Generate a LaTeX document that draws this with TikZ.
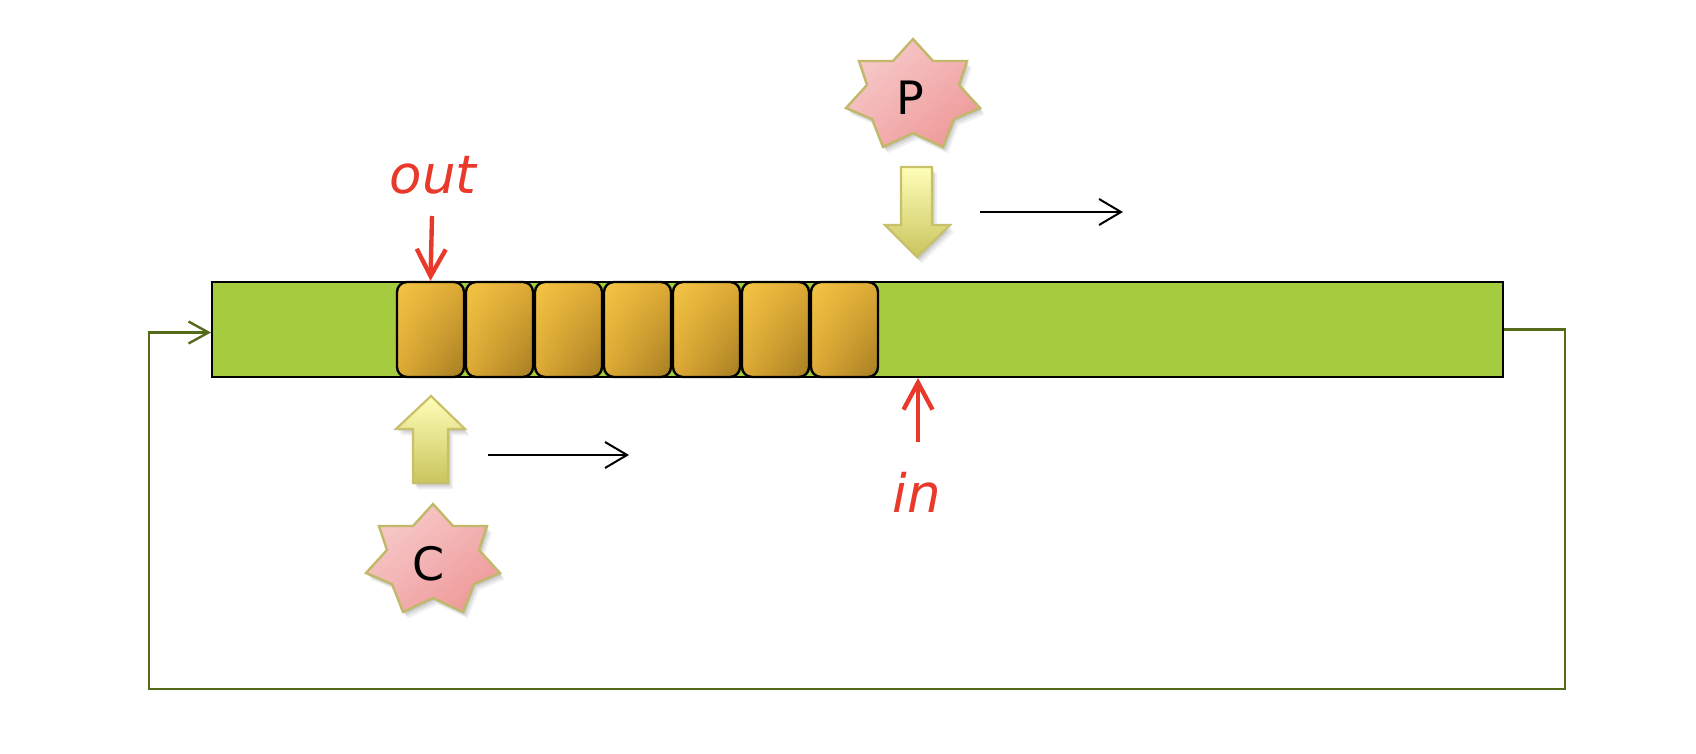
\documentclass[tikz,border=0pt]{standalone}
\usepackage{fontspec}
\setmainfont{DejaVu Sans}
\usetikzlibrary{arrows.meta,shadows,shadings}
\definecolor{bargreen}{HTML}{A5CB3F}
\definecolor{loopgreen}{HTML}{566B1A}
\definecolor{cellA}{HTML}{F3C544}
\definecolor{cellB}{HTML}{DDA935}
\definecolor{cellC}{HTML}{A67D22}
\definecolor{starA}{HTML}{F8D2D2}
\definecolor{starB}{HTML}{F3B3B3}
\definecolor{starC}{HTML}{EE9090}
\definecolor{starEdge}{HTML}{C2B86A}
\definecolor{arrA}{HTML}{FFFEB8}
\definecolor{arrB}{HTML}{C9C55E}
\definecolor{arrEdge}{HTML}{C8C06A}
\definecolor{redc}{HTML}{E8392A}
\begin{document}
\begin{tikzpicture}[x=0.5pt,y=-0.5pt,
  softshadow/.style={
    drop shadow={shadow xshift=0.8pt, shadow yshift=-1.2pt, opacity=0.10, fill=black},
    drop shadow={shadow xshift=1.6pt, shadow yshift=-2.2pt, opacity=0.08, fill=black},
    drop shadow={shadow xshift=2.4pt, shadow yshift=-3.2pt, opacity=0.06, fill=black}},
  bufbar/.style={draw=black, line width=1pt, fill=bargreen, minimum width=645.5pt, minimum height=47.5pt, inner sep=0pt},
  cell/.style={draw=black, line width=1.2pt, rounded corners=5pt, minimum width=33.5pt, minimum height=47.5pt, inner sep=0pt,
    upper left=cellA, upper right=cellB, lower left=cellB, lower right=cellC},
  starshape/.style={draw=starEdge, line width=1.2pt, line join=miter, softshadow,
    upper left=starA, upper right=starB, lower left=starB, lower right=starC},
  blockarrow/.style={draw=arrEdge, line width=1.1pt, top color=arrA, bottom color=arrB, softshadow},
  startext/.style={font=\fontsize{23}{23}\selectfont, inner sep=0pt},
  redlabel/.style={font=\fontsize{26.5}{26.5}\selectfont\itshape, text=redc, inner sep=0pt},
  redarrow/.style={draw=redc, line width=2.2pt, -{Straight Barb[length=13.5pt,width=14.5pt,line width=2.2pt]}},
  blackarrow/.style={draw=black, line width=1pt, -{Straight Barb[length=11pt,width=13pt]}},
  loopline/.style={draw=loopgreen, line width=1.2pt, -{Straight Barb[length=10pt,width=11pt]}}
]
\useasboundingbox (0,0) rectangle (1696,754);

% loop line
\coordinate (lr) at (1565,689);
\coordinate (ll) at (149,689);

% buffer bar
\node[bufbar] (bar) at (857.5,329.5) {};
\draw[loopline] (bar.east) -| (lr) -- (ll) |- ([yshift=-1.5pt]bar.west);

% cells
\foreach \i in {1,...,7} {
  \node[cell] (c\i) at ({396+69*(\i-0.5)},329.5) {};
}

% producer star
\begin{scope}[shift={(913,97)}]
\path[starshape] (0,-58) -- (20,-36) -- (54,-36) -- (46,-12) -- (67,11) -- (41,22) -- (30,50) -- (0,36)
  -- (-30,50) -- (-41,22) -- (-67,11) -- (-46,-12) -- (-54,-36) -- (-20,-36) -- cycle;
\end{scope}
\node[startext] (P) at (910,98) {P};

% consumer star
\begin{scope}[shift={(433,562)}]
\path[starshape] (0,-58) -- (20,-36) -- (54,-36) -- (46,-12) -- (67,11) -- (41,22) -- (30,50) -- (0,36)
  -- (-30,50) -- (-41,22) -- (-67,11) -- (-46,-12) -- (-54,-36) -- (-20,-36) -- cycle;
\end{scope}
\node[startext] (C) at (429,564) {C};

% block arrows
\path[blockarrow] (901,167) -- (932,167) -- (932,225) -- (950,225) -- (917,257) -- (885,225) -- (901,225) -- cycle;
\path[blockarrow] (413,483) -- (448,483) -- (448,429) -- (465,429) -- (431,396) -- (396,429) -- (413,429) -- cycle;

% direction arrows
\coordinate (pa1) at (980,212);
\coordinate (pa2) at (1123,212);
\draw[blackarrow] (pa1) -- (pa2);
\coordinate (ca1) at (488,455);
\coordinate (ca2) at (629,455);
\draw[blackarrow] (ca1) -- (ca2);

% out / in pointers
\node[redlabel] (out) at (433,175) {out};
\coordinate (outtail) at (432,216);
\draw[redarrow] (outtail) -- (c1.north);
\node[redlabel] (in) at (917,492) {in};
\coordinate (intail) at (918,442);
\draw[redarrow] (intail) -- (intail |- bar.south);
\end{tikzpicture}
\end{document}
